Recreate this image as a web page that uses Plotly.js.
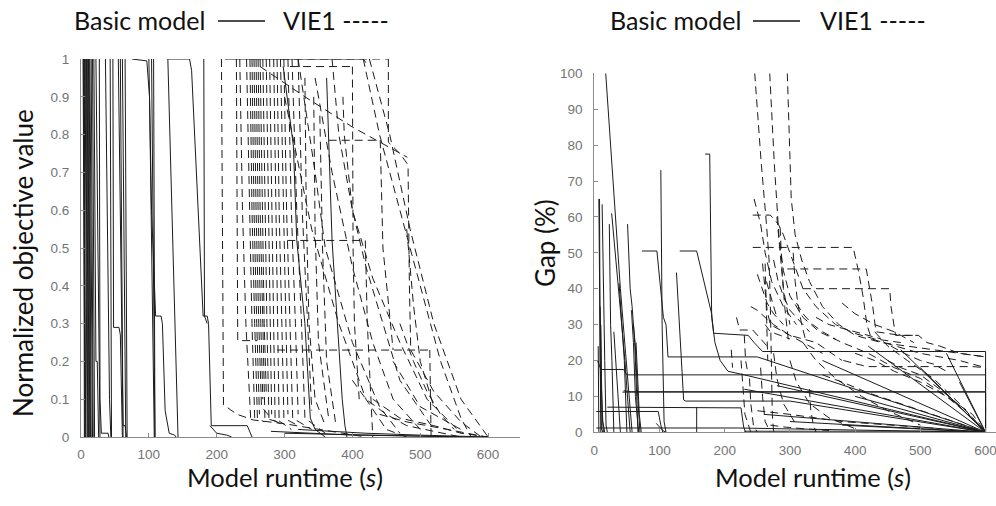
<!DOCTYPE html>
<html><head><meta charset="utf-8">
<script src="https://cdn.plot.ly/plotly-3.0.1.min.js"></script>
<style>html,body{margin:0;padding:0;background:#fff;overflow:hidden}#chart{width:996px;height:506px}</style>
</head><body><div id="chart"></div>
<script>
// ---------- Tick labels ----------
const xTicks = [0, 100, 200, 300, 400, 500, 600];
const objTicks = [0, 0.1, 0.2, 0.3, 0.4, 0.5, 0.6, 0.7, 0.8, 0.9, 1];
const objTickText = ['0', '0.1', '0.2', '0.3', '0.4', '0.5', '0.6', '0.7', '0.8', '0.9', '1'];
const gapTicks = [0, 10, 20, 30, 40, 50, 60, 70, 80, 90, 100];

// ---------- Left panel: normalized objective, Basic model (solid) ----------
const objBasicX = [
  [3,6],[4,7],[5,6],[6,9],[7,10],[8,11],[9,12],[10,13],[11,14],[12,15],[13,17],[15,18],[17,20],[4,5],
  [19,22,24,26],[22,25,28],[27,28,30,40,41],[36,41,42,44],[43,45],[47,48,56,58,61],
  [55,60,62,65,67],[58,62],[61,64,66],[65,68],
  [75,97,101,106,108],[100,104,110,118,120,124,130,138,140],[104,106,109],[107,109],[128,143],
  [128,160,163,180,186,188,192,245,252],[181,182,186],[190,200,215,222],
  [298,313,318,330,338,345,360],[362,370,385,389,392],[212,416,420],
  [280,340,400,600],[300,360,450,560],[320,420,500,600]
];
const objBasicY = [
  [1,0],[1,0],[1,0],[1,0],[1,0],[1,0],[1,0],[1,0],[1,0],[1,0],[1,0],[1,0],[1,0],[1,0],
  [1,0.2,0.2,0],[1,0.55,0],[1,0.1,0.01,0.01,0],[1,0.11,0.1,0],[1,0],[1,0.29,0.29,0.27,0],
  [1,0.27,0.03,0.03,0],[1,0],[1,0.35,0],[1,0],
  [1,0.995,0.9,0.3,0],[1,0.6,0.32,0.32,0.3,0.07,0.01,0.005,0],[1,0.5,0],[1,0],[1,0],
  [1,1,0.97,0.32,0.32,0.3,0.03,0.03,0],[1,0.32,0.3],[0.03,0.01,0.005,0],
  [0.98,0.77,0.52,0.3,0.05,0.02,0],[0.95,0.52,0.1,0.03,0],[1,1,0.99],
  [0.015,0.01,0.005,0],[0.01,0.008,0.004,0],[0.02,0.01,0.005,0]
];

// ---------- Left panel: normalized objective, VIE1 (dashed) ----------
const objVieX = [
  [207,208,210,230,254,300,370,420],[229,230,231,260],[289,514],[514,516],
  [234,238,243,250],[244,248,252,256],[249,252,256,260,270],[252,255,259,263],
  [255,258,262,266,280],[258,261,265,268],[261,264,268,271,290],[264,267,270,273],
  [268,271,274,277,300],[273,276,279,281],[278,281,284,286,310],[284,287,290,292],
  [289,292,296,299,320],[294,298,302,305],[299,303,308,312,340],[305,310,316,320],
  [311,318,325,330,360],[320,326,334,340],
  [264,330,400,481],[300,320,340,380,420,450,480],[320,345,360,400,440,470],
  [345,370,400,430,460,500],[370,380,400,420,445,470,520],[416,440,470,500,530,560,575],
  [425,455,485,520,560,600],[453,453,470,482,484,486,520,560,590],[386,388,400,430,470,510,560],
  [295,453],[308,397],[400,401,403,410],[365,441],[441,445,460],[304,419],[419,422,430],
  [430,470,520,560,600],[440,480,540,598],[460,500,560],
  [330,332,336,345,360],[343,345,350,365],[352,356,362,375],
  [470,490,510,530,550],[480,485,490,500,520],[400,420,450,480,520,560]
];
const objVieY = [
  [1,0.6,0.085,0.06,0.045,0.035,0.015,0],[1,0.6,0.255,0.255],[0.23,0.23],[0.23,0],
  [1,0.6,0.3,0.05],[1,0.6,0.3,0.05],[1,0.6,0.3,0.05,0.04],[1,0.6,0.3,0.06],
  [1,0.6,0.3,0.08,0.05],[1,0.6,0.3,0.1],[1,0.6,0.3,0.05,0.04],[1,0.6,0.3,0.12],
  [1,0.6,0.3,0.05,0.03],[1,0.6,0.3,0.06],[1,0.6,0.3,0.05,0.02],[1,0.6,0.3,0.04],
  [1,0.6,0.3,0.05,0.03],[1,0.6,0.3,0.06],[1,0.6,0.3,0.05,0.02],[1,0.6,0.3,0.06],
  [1,0.6,0.3,0.05,0.01],[1,0.6,0.3,0.07],
  [0.98,0.9,0.82,0.74],[0.9,0.72,0.55,0.3,0.1,0.02,0],[1,0.7,0.5,0.25,0.08,0.01],
  [0.95,0.7,0.45,0.25,0.1,0.02],[1,0.8,0.6,0.45,0.3,0.15,0.02],[1,0.8,0.6,0.4,0.2,0.05,0],
  [1,0.8,0.55,0.3,0.1,0],[1,0.78,0.75,0.72,0.4,0.23,0.12,0.04,0],[0.9,0.8,0.6,0.42,0.25,0.1,0.01],
  [1,1],[0.98,0.98],[0.98,0.5,0.3,0.1],[0.785,0.785],[0.785,0.5,0.23],[0.52,0.52],[0.52,0.3,0],
  [0.1,0.05,0.03,0.01,0],[0.06,0.04,0.02,0],[0.2,0.08,0.02],
  [0.95,0.6,0.3,0.1,0.03],[0.9,0.55,0.25,0.05],[0.85,0.5,0.2,0.04],
  [0.3,0.2,0.12,0.06,0.02],[0.55,0.45,0.35,0.2,0.08],[0.15,0.1,0.06,0.03,0.015,0]
];

// ---------- Right panel: gap (%), Basic model (solid) ----------
const gapBasicX = [
  [6,7],[7,8,9,10],[8,9,11,13],[9,10,12,14],[10,11,13,16],[12,14,16,18,20],
  [17.5,30,40,48,55,58],[23,25,27,30],[26.6,35,42,47,50,55],[30,33,36,40],[38,42,46,50],
  [51,55,58,62,65,67],[57,60,63,68],[60,63,66,70],[64,66,69,72],
  [5,10,45,50,600,600],[43,600,600],[45,55,600],[3,98,102,105],[20,225,229,232],[3,220,600],[157,157],
  [73,96,106,110,113,250,600],[102,104,107,110],[95,100,105,110],[126,133,137,140,300,600],
  [131,157,180,183,236,245,258,600,600],[170,177,180,185,193,205,230,600],
  [280,600],[350,600],[420,600],[470,600],[500,600],[540,600],[560,600],[230,600],[260,600],[300,600],[400,600],[380,600],
  [230,600]
];
const gapBasicY = [
  [24,0],[65,30,10,0],[65,20,1,0],[35,20,5,0],[30,12,3,0],[63.5,35,20,2,0],
  [100,65,40,22,8,0],[58,30,20,0],[61,45,30,20,12,0],[28,20,10,0],[41.5,30,20,0],
  [58,40,35,25,10,0],[34,25,10,0],[30,24,12,0],[25,18,5,0],
  [20,17.5,17.5,16,16,0],[11.2,11.2,0],[11.6,11.3,11.3],[5.8,5.8,2,0],[7,6.8,1.5,0],[1.2,1.2,0],[7,0],
  [50.5,50.5,32,30,21,21,0],[73,30,3,0],[2.5,1.5,0.5,0],[44.5,20,9,8.7,8.7,0],
  [50.5,50.5,33,27.6,27,25,22.5,22.5,0],[77.5,77.5,32,25,20,17,16,0],
  [13,0],[20,0],[24,0],[23,0],[18,0],[22,0],[14,0],[12,0],[5,0],[3,0],[10,0],[2,0],
  [0.3,0.3]
];

// ---------- Right panel: gap (%), VIE1 (dashed) ----------
const gapVieX = [
  [246,256,264,268,270,271,273,275],
  [269,276,283,290,300,320,345,380,420,460,500,540,580,600],
  [296,299,302,308,318,330,350,375,400,440,480,520,560,600],
  [243,270,282,290,300,310,320,340,370,400,430,470],
  [243,397,405,412,418,425,500,560,600],
  [296,417,427,432,470,497,510,530,560,600],
  [320,453,455,460,462,497],
  [245,255,262,272,290,310],[258,262,265,270,290,320,350],[240,250,262,275,300,340,380],
  [218,223,243,250,265],[382,418,580,600,600],[230,232,235],[210,212],
  [225,228,231,240],[238,240,244,250],[255,258,262,270],[275,280,290,310],
  [300,310,330,360,400],[320,340,370,410,450,500],[330,332,336,340],
  [350,380,420,470,520,570,600],[400,430,460,500,540,580,600],[430,450,480,520,560,600],
  [450,470,500,530,570,600],[280,285,290,300],[285,288,292,298],[305,308,312,318,325],
  [262,263,264,266],[264,270,280],[380,400,430,460,490],[250,300,380,450,530],[270,290,320,360],
  [250,258,265,275,290],[275,282,290,300,315,330],[310,320,335,350,370],[262,270,285,300],
  [340,360,380,400,420,440],[455,475,500,520,540]
];
const gapVieY = [
  [100,75,58,48,35,20,5,0],
  [100,75,55,45,38,32,28,25,22,18,15,10,4,0],
  [100,80,65,55,48,42,35,30,27,25,24,23,22,21],
  [60.5,60.5,58,55,50,45,40,35,30,27.5,26,25],
  [51.5,51.5,45,38,30,26,22,20,18],
  [45.5,45.5,35,28,27,27,25,24,22,21],
  [40,40,35,30,27,27],
  [65,58,50,42,35,30],[47,40,34,30,28,25,22],[35,34,32,30,27,25,20],
  [32,28.5,28.5,27,24],[20,18.3,18.3,18,0],[27,20,17],[23,18],
  [20,12,5,0],[15,8,2,0],[18,10,3,0],[22,15,8,2],
  [20,14,8,4,1],[25,20,15,10,6,2],[12,6,2,0],
  [16,14,11,8,5,2,0],[22,20,17,14,10,5,0],[28,24,20,15,8,0],
  [20,18,16,12,6,0],[60,50,40,30],[57,45,35,25],[50,42,36,30,25],
  [47,38,28,20],[42,38,32],[36,33,30,28,25],[6,5,3,2,1],[2,1.5,1,0.5],
  [44,40,36,33,30],[48,42,38,34,31,28],[36,33,30,28,26],[30,28,27,26],
  [32,30,29,28,27,26],[24,22,20,19,17]
];

// ---------- Build traces ----------
const traces = [];
function addGroup(xs, ys, xa, ya, dash) {
  for (let i = 0; i < xs.length; i++) {
    traces.push({
      type: 'scatter', mode: 'lines', x: xs[i], y: ys[i], xaxis: xa, yaxis: ya,
      line: {color: '#1c1c1c', width: 1, dash: dash},
      hoverinfo: 'skip', showlegend: false
    });
  }
}
addGroup(objBasicX, objBasicY, 'x', 'y', 'solid');
addGroup(objVieX, objVieY, 'x', 'y', '8px,5px');
addGroup(gapBasicX, gapBasicY, 'x2', 'y2', 'solid');
addGroup(gapVieX, gapVieY, 'x2', 'y2', '8px,5px');

const W = 996, H = 506;
const axisStyle = {
  showline: true, linecolor: '#8c8c8c', linewidth: 1, mirror: false,
  ticks: 'inside', ticklen: 4, tickcolor: '#8c8c8c', tickwidth: 1,
  showgrid: false, zeroline: false, fixedrange: true, ticklabeloverflow: 'allow',
  tickfont: {family: 'Arial, Liberation Sans, sans-serif', size: 13.5, color: '#747474'}
};
function ann(text, px, py, size, angle) {
  return {text: text, xref: 'paper', yref: 'paper', x: px / W, y: 1 - py / H,
    xanchor: 'center', yanchor: 'middle', showarrow: false, textangle: angle || 0,
    font: {family: 'Lato, sans-serif', size: size, color: '#111'}};
}
function legLine(x0, x1, py) {
  return {type: 'line', xref: 'paper', yref: 'paper', x0: x0 / W, x1: x1 / W, y0: 1 - py / H, y1: 1 - py / H,
    line: {color: '#111', width: 1.5}};
}

const layout = {
  width: W, height: H, margin: {l: 0, r: 0, t: 0, b: 0, pad: 0},
  paper_bgcolor: '#fff', plot_bgcolor: 'rgba(0,0,0,0)', showlegend: false,
  xaxis: Object.assign({}, axisStyle, {domain: [81 / W, 520 / W], range: [0, 647], tickvals: xTicks, anchor: 'y', ticklabelstandoff: 5}),
  yaxis: Object.assign({}, axisStyle, {domain: [(H - 437) / H, (H - 59) / H], range: [0, 1], tickvals: objTicks, ticktext: objTickText, anchor: 'x', ticklabelstandoff: 8}),
  xaxis2: Object.assign({}, axisStyle, {domain: [594.3 / W, 1], range: [0, 616], tickvals: xTicks, anchor: 'y2', ticklabelstandoff: 5}),
  yaxis2: Object.assign({}, axisStyle, {domain: [(H - 432.3) / H, (H - 73.3) / H], range: [0, 100], tickvals: gapTicks, anchor: 'x2', ticklabelstandoff: 8}),
  shapes: [legLine(218, 265, 21), legLine(753, 800, 21)],
  annotations: [
    ann('Basic model', 139, 20, 25),
    ann('VIE1 -----', 336, 20, 25),
    ann('Basic model', 675, 20, 25),
    ann('VIE1 -----', 873, 20, 25),
    ann('Normalized objective value', 23, 263, 26, -90),
    ann('Gap (%)', 545, 243, 26, -90),
    ann('Model runtime (<i>s</i>)', 285, 477, 25.5),
    ann('Model runtime (<i>s</i>)', 813, 477, 25.5)
  ]
};
Plotly.newPlot('chart', traces, layout, {displayModeBar: false, staticPlot: true});
</script></body></html>
